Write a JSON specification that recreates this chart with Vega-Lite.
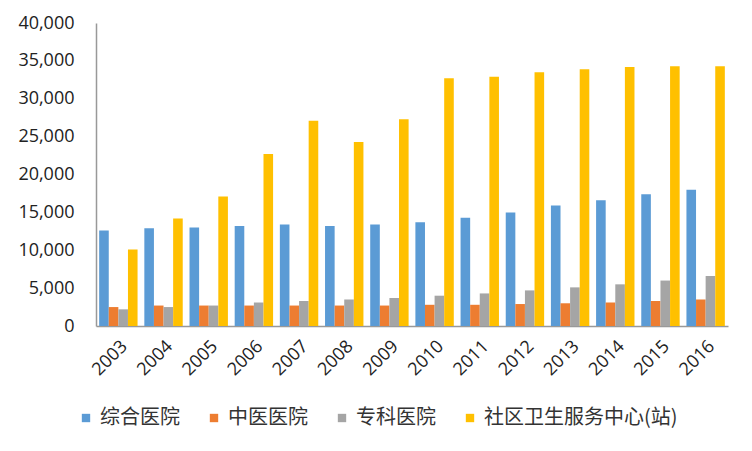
{
  "$schema": "https://vega.github.io/schema/vega-lite/v6.json",
  "width": 632,
  "height": 303,
  "autosize": {"type": "none"},
  "padding": {"left": 96, "top": 23, "right": 24, "bottom": 125},
  "background": "white",
  "config": {"view": {"stroke": null}},
  "data": {
    "values": [
      {"year": "2003", "综合医院": 12600, "中医医院": 2500, "专科医院": 2200, "社区卫生服务中心(站)": 10100},
      {"year": "2004", "综合医院": 12900, "中医医院": 2700, "专科医院": 2500, "社区卫生服务中心(站)": 14200},
      {"year": "2005", "综合医院": 13000, "中医医院": 2700, "专科医院": 2700, "社区卫生服务中心(站)": 17100},
      {"year": "2006", "综合医院": 13200, "中医医院": 2700, "专科医院": 3100, "社区卫生服务中心(站)": 22700},
      {"year": "2007", "综合医院": 13400, "中医医院": 2700, "专科医院": 3300, "社区卫生服务中心(站)": 27100},
      {"year": "2008", "综合医院": 13200, "中医医院": 2700, "专科医院": 3500, "社区卫生服务中心(站)": 24300},
      {"year": "2009", "综合医院": 13400, "中医医院": 2700, "专科医院": 3700, "社区卫生服务中心(站)": 27300},
      {"year": "2010", "综合医院": 13700, "中医医院": 2800, "专科医院": 4000, "社区卫生服务中心(站)": 32700},
      {"year": "2011", "综合医院": 14300, "中医医院": 2800, "专科医院": 4300, "社区卫生服务中心(站)": 32900},
      {"year": "2012", "综合医院": 15000, "中医医院": 2900, "专科医院": 4700, "社区卫生服务中心(站)": 33500},
      {"year": "2013", "综合医院": 15900, "中医医院": 3000, "专科医院": 5100, "社区卫生服务中心(站)": 33900},
      {"year": "2014", "综合医院": 16600, "中医医院": 3100, "专科医院": 5500, "社区卫生服务中心(站)": 34200},
      {"year": "2015", "综合医院": 17400, "中医医院": 3300, "专科医院": 6000, "社区卫生服务中心(站)": 34300},
      {"year": "2016", "综合医院": 18000, "中医医院": 3500, "专科医院": 6600, "社区卫生服务中心(站)": 34300}
    ]
  },
  "transform": [
    {"fold": ["综合医院", "中医医院", "专科医院", "社区卫生服务中心(站)"], "as": ["type", "value"]}
  ],
  "mark": {"type": "bar"},
  "encoding": {
    "x": {
      "field": "year",
      "type": "nominal",
      "title": null,
      "scale": {"paddingInner": 0.15, "paddingOuter": 0.07},
      "axis": {
        "labelAngle": -45,
        "labelFont": "Open Sans",
        "labelFontSize": 18,
        "labelColor": "#222222",
        "ticks": false,
        "labelPadding": 11,
        "domainColor": "#999999",
        "domainWidth": 1.5
      }
    },
    "xOffset": {
      "field": "type",
      "type": "nominal",
      "sort": ["综合医院", "中医医院", "专科医院", "社区卫生服务中心(站)"],
      "scale": {"paddingInner": 0, "paddingOuter": 0}
    },
    "y": {
      "field": "value",
      "type": "quantitative",
      "title": null,
      "scale": {"domain": [0, 40000], "nice": false},
      "axis": {
        "values": [0, 5000, 10000, 15000, 20000, 25000, 30000, 35000, 40000],
        "format": ",d",
        "grid": false,
        "ticks": false,
        "labelFont": "Open Sans",
        "labelFontSize": 18,
        "labelColor": "#222222",
        "labelPadding": 22,
        "domainColor": "#999999",
        "domainWidth": 1.5
      }
    },
    "color": {
      "field": "type",
      "type": "nominal",
      "title": null,
      "scale": {
        "domain": ["综合医院", "中医医院", "专科医院", "社区卫生服务中心(站)"],
        "range": ["#5B9BD5", "#ED7D31", "#A5A5A5", "#FFC000"]
      },
      "legend": {
        "orient": "none",
        "direction": "horizontal",
        "legendX": -20,
        "legendY": 385,
        "symbolType": "square",
        "symbolSize": 70,
        "symbolStrokeWidth": 0,
        "labelFont": "Noto Sans CJK SC",
        "labelFontSize": 20,
        "labelColor": "#333333",
        "labelLimit": 400,
        "labelOffset": 4,
        "columnPadding": 24
      }
    }
  }
}
